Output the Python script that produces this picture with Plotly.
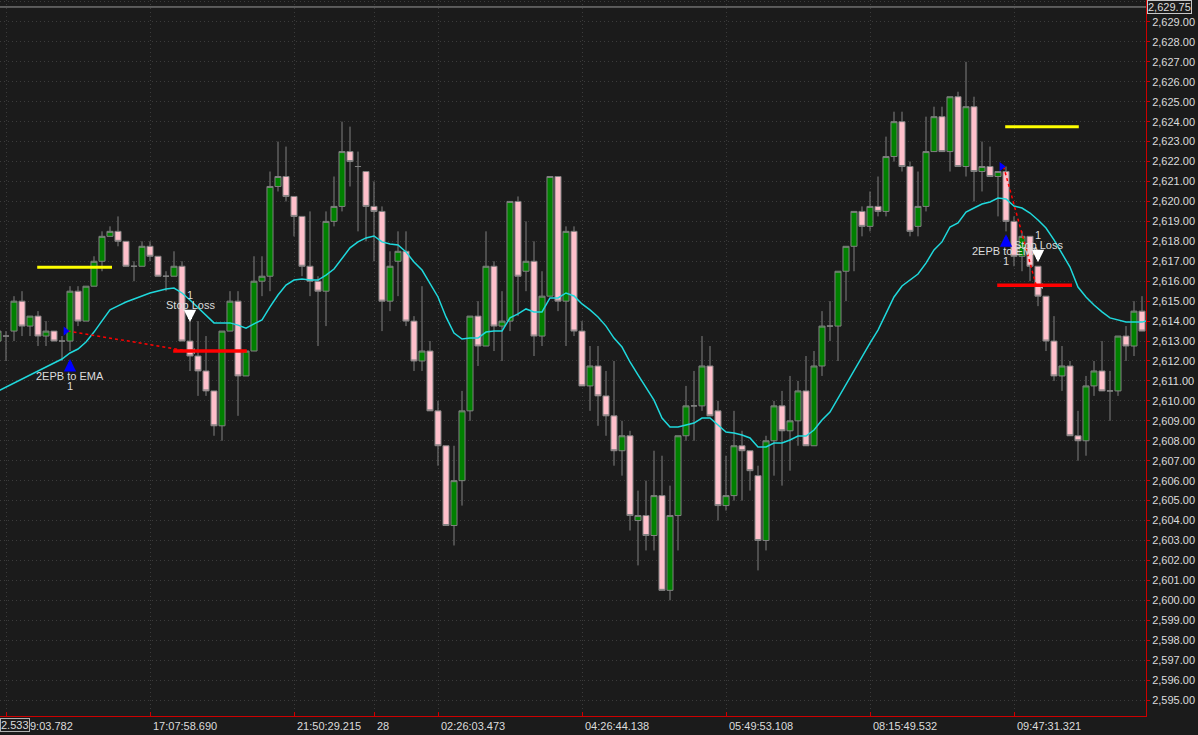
import plotly.graph_objects as go

# tick chart: bars are evenly spaced, so they are plotted by bar number
bar_idx = list(range(145))

open_ = [2613.0, 2613.25, 2613.5, 2615.0, 2613.75, 2614.25, 2613.25, 2613.5, 2613.0, 2613.0,
         2615.5, 2614.0, 2615.75, 2617.0, 2618.25, 2618.5, 2618.0, 2616.75, 2616.75, 2617.75,
         2617.25, 2616.25, 2616.25, 2616.75, 2613.0, 2612.25, 2611.5, 2610.5, 2608.75, 2613.5,
         2615.0, 2611.25, 2612.5, 2616.0, 2616.25, 2620.75, 2621.25, 2620.25, 2619.25, 2616.75,
         2616.0, 2615.5, 2619.0, 2619.75, 2622.5, 2621.75, 2621.5, 2619.75, 2619.5, 2615.0,
         2617.0, 2617.5, 2614.0, 2612.0, 2612.5, 2609.5, 2607.75, 2603.75, 2606.0, 2609.5,
         2614.25, 2612.75, 2616.75, 2613.75, 2614.0, 2620.0, 2616.5, 2617.0, 2613.25, 2615.25,
         2621.25, 2615.0, 2618.5, 2613.5, 2610.75, 2611.75, 2610.25, 2609.25, 2607.5, 2608.25,
         2604.0, 2604.25, 2603.25, 2605.25, 2600.5, 2604.25, 2608.25, 2609.75, 2609.75, 2611.75,
         2609.5, 2604.75, 2605.25, 2607.75, 2607.5, 2606.25, 2603.0, 2608.0, 2609.75, 2608.5,
         2609.0, 2610.5, 2607.75, 2611.75, 2613.75, 2613.75, 2616.5, 2617.75, 2619.5, 2618.75,
         2619.75, 2619.5, 2622.25, 2624.0, 2621.75, 2618.75, 2619.75, 2622.5, 2624.25, 2622.5,
         2625.25, 2621.75, 2624.75, 2621.5, 2621.75, 2621.25, 2621.5, 2619.0, 2617.25, 2618.25,
         2616.75, 2615.25, 2613.0, 2611.25, 2611.75, 2608.25, 2608.0, 2610.75, 2611.5, 2610.5,
         2610.5, 2613.25, 2612.75, 2614.5, 2614.0]
high = [2613.75, 2613.5, 2615.25, 2615.5, 2614.25, 2614.5, 2614.0, 2613.5, 2613.25, 2615.75,
        2615.75, 2615.75, 2617.25, 2618.5, 2618.75, 2619.25, 2618.0, 2617.0, 2618.0, 2618.0,
        2617.25, 2616.5, 2617.5, 2617.0, 2614.25, 2614.0, 2613.25, 2610.5, 2613.5, 2615.5,
        2615.5, 2612.5, 2617.25, 2617.25, 2621.5, 2623.0, 2622.75, 2620.25, 2619.25, 2619.5,
        2616.25, 2619.5, 2621.25, 2624.0, 2623.75, 2622.5, 2621.5, 2621.0, 2619.75, 2617.5,
        2618.5, 2618.5, 2614.25, 2615.75, 2613.0, 2610.0, 2607.75, 2607.75, 2610.5, 2614.25,
        2615.0, 2618.5, 2617.0, 2615.5, 2620.0, 2620.25, 2619.0, 2618.0, 2616.5, 2621.25,
        2621.25, 2618.75, 2618.75, 2614.0, 2612.75, 2612.75, 2611.5, 2612.0, 2609.0, 2608.5,
        2605.5, 2606.0, 2607.5, 2607.25, 2605.75, 2608.25, 2610.75, 2611.5, 2613.25, 2612.75,
        2610.0, 2607.25, 2609.5, 2608.5, 2607.5, 2606.75, 2608.25, 2610.0, 2610.5, 2611.25,
        2611.0, 2612.25, 2612.5, 2614.5, 2615.0, 2616.5, 2617.75, 2619.5, 2619.75, 2620.5,
        2621.25, 2623.25, 2624.5, 2624.5, 2622.0, 2621.5, 2624.25, 2624.75, 2624.75, 2625.25,
        2625.5, 2627.0, 2625.25, 2623.0, 2622.75, 2621.5, 2621.75, 2619.25, 2618.5, 2618.25,
        2616.75, 2615.25, 2614.25, 2612.75, 2612.0, 2609.5, 2611.25, 2612.0, 2613.0, 2611.5,
        2613.25, 2613.75, 2615.0, 2615.25, 2615.75]
low = [2612.75, 2612.0, 2613.0, 2613.25, 2613.25, 2612.75, 2612.75, 2613.0, 2612.0, 2612.5,
       2613.75, 2614.0, 2615.75, 2616.5, 2618.25, 2617.75, 2616.75, 2616.0, 2616.75, 2617.0,
       2616.25, 2615.5, 2616.25, 2613.0, 2611.5, 2610.25, 2610.25, 2608.25, 2608.0, 2613.5,
       2609.25, 2611.25, 2612.5, 2615.25, 2615.5, 2620.5, 2620.0, 2618.25, 2616.25, 2615.25,
       2612.75, 2613.75, 2618.75, 2619.5, 2620.75, 2618.5, 2618.0, 2617.0, 2613.5, 2614.5,
       2615.25, 2613.75, 2611.5, 2611.5, 2609.5, 2606.75, 2603.75, 2602.75, 2604.75, 2609.0,
       2611.75, 2612.75, 2612.5, 2612.0, 2613.5, 2614.25, 2615.5, 2612.25, 2612.75, 2615.25,
       2614.5, 2612.75, 2613.25, 2610.75, 2609.5, 2608.75, 2608.25, 2606.75, 2606.25, 2603.5,
       2601.75, 2602.5, 2602.5, 2600.5, 2600.0, 2602.5, 2608.0, 2608.0, 2609.5, 2609.25,
       2604.0, 2604.5, 2605.0, 2605.0, 2605.5, 2601.5, 2602.5, 2606.25, 2605.75, 2606.5,
       2607.75, 2607.75, 2607.75, 2611.25, 2613.0, 2612.0, 2615.0, 2616.5, 2618.25, 2618.5,
       2619.25, 2619.25, 2622.0, 2621.5, 2618.25, 2618.25, 2619.5, 2622.5, 2622.5, 2621.5,
       2621.75, 2621.25, 2620.0, 2620.5, 2621.25, 2619.25, 2618.5, 2616.75, 2616.5, 2616.0,
       2614.75, 2612.5, 2611.0, 2610.5, 2608.25, 2607.0, 2607.25, 2610.25, 2610.5, 2609.0,
       2610.25, 2612.0, 2612.25, 2613.5, 2613.75]
close = [2613.5, 2613.25, 2615.0, 2613.75, 2614.25, 2613.25, 2613.5, 2613.0, 2613.0, 2615.5,
         2614.0, 2615.75, 2617.0, 2618.25, 2618.5, 2618.0, 2616.75, 2616.75, 2617.75, 2617.25,
         2616.25, 2616.25, 2616.75, 2613.0, 2612.25, 2611.5, 2610.5, 2608.75, 2613.5, 2615.0,
         2611.25, 2612.5, 2616.0, 2616.25, 2620.75, 2621.25, 2620.25, 2619.25, 2616.75, 2616.0,
         2615.5, 2619.0, 2619.75, 2622.5, 2622.0, 2621.75, 2619.75, 2619.5, 2615.0, 2616.75,
         2617.5, 2614.0, 2612.0, 2612.5, 2609.5, 2607.75, 2603.75, 2606.0, 2609.5, 2614.25,
         2612.75, 2616.75, 2613.75, 2614.0, 2620.0, 2616.25, 2617.0, 2613.25, 2615.25, 2621.25,
         2615.0, 2618.5, 2613.5, 2610.75, 2611.75, 2610.25, 2609.25, 2607.5, 2608.25, 2604.25,
         2604.25, 2603.25, 2605.25, 2600.5, 2604.25, 2608.25, 2609.75, 2609.75, 2611.75, 2609.25,
         2604.75, 2605.25, 2607.75, 2607.5, 2606.5, 2603.0, 2608.0, 2609.75, 2608.5, 2609.0,
         2610.5, 2607.75, 2611.75, 2613.75, 2613.75, 2616.5, 2617.75, 2619.5, 2618.75, 2619.75,
         2619.5, 2622.25, 2624.0, 2621.75, 2618.5, 2619.75, 2622.5, 2624.25, 2622.5, 2625.25,
         2621.75, 2624.75, 2621.5, 2621.75, 2621.25, 2621.5, 2619.0, 2617.25, 2618.25, 2616.75,
         2615.25, 2613.0, 2611.25, 2611.75, 2608.25, 2608.0, 2610.75, 2611.5, 2610.5, 2610.5,
         2613.25, 2612.75, 2614.5, 2613.5, 2615.5]

# EMA indicator as drawn on the chart
ema = [2610.49, 2610.70, 2610.90, 2611.10, 2611.30, 2611.50, 2611.70, 2611.90, 2612.10, 2612.40,
       2612.60, 2612.95, 2613.45, 2614.01, 2614.56, 2614.76, 2614.96, 2615.11, 2615.26, 2615.41,
       2615.51, 2615.61, 2615.66, 2615.41, 2615.06, 2614.66, 2614.26, 2613.91, 2613.91, 2613.91,
       2613.80, 2613.65, 2613.86, 2614.06, 2614.71, 2615.31, 2615.81, 2616.06, 2616.11, 2616.06,
       2616.06, 2616.31, 2616.61, 2617.16, 2617.67, 2617.97, 2618.17, 2618.27, 2617.97, 2617.87,
       2617.82, 2617.47, 2616.96, 2616.56, 2615.91, 2615.21, 2614.21, 2613.40, 2613.10, 2613.15,
       2613.15, 2613.45, 2613.50, 2613.50, 2614.16, 2614.36, 2614.61, 2614.46, 2614.46, 2615.16,
       2615.16, 2615.41, 2615.26, 2614.86, 2614.56, 2614.21, 2613.75, 2613.15, 2612.70, 2611.95,
       2611.30, 2610.65, 2610.04, 2609.14, 2608.69, 2608.69, 2608.79, 2608.89, 2609.14, 2609.14,
       2608.79, 2608.44, 2608.39, 2608.29, 2608.14, 2607.69, 2607.69, 2607.89, 2607.89, 2608.04,
       2608.24, 2608.24, 2608.54, 2609.04, 2609.44, 2610.14, 2610.80, 2611.55, 2612.20, 2612.90,
       2613.55, 2614.41, 2615.21, 2615.76, 2616.06, 2616.36, 2616.91, 2617.57, 2617.97, 2618.72,
       2618.92, 2619.47, 2619.67, 2619.87, 2619.97, 2620.17, 2620.12, 2619.77, 2619.67, 2619.42,
       2619.07, 2618.67, 2618.07, 2617.42, 2616.71, 2615.71, 2615.21, 2614.81, 2614.46, 2614.16,
       2614.06, 2613.95, 2613.95, 2613.95, 2614.06]

# time axis labels (left aligned at their bar); the first one is half hidden
# behind the corner box, only its visible part is kept
tick_idx = [1, 19, 37, 47, 55, 73, 91, 109, 127]
tick_text = ["9:03.782", "17:07:58.690", "21:50:29.215", "28", "02:26:03.473",
             "04:26:44.138", "05:49:53.108", "08:15:49.532", "09:47:31.321"]

# two trades
entry_idx = [9, 126]
entry_fill = [2613.5, 2621.75]
entry_arrow = [2612.1, 2618.35]
entry_name = ["2EPB to EMA", "2EPB to EMA"]
exit_idx = [24, 130]
exit_fill = [2612.5, 2615.75]
exit_arrow = [2613.95, 2616.95]
exit_name = ["Stop Loss", "Stop Loss"]
qty = ["1", "1"]

target_price = [2616.7, 2623.75]
target_from = [4.9, 125.9]
target_to = [14.25, 135.1]
stop_price = [2612.5, 2615.8]
stop_from = [21.9, 124.9]
stop_to = [31.1, 134.25]

top_price = 2629.75
top_label = "2,629.75"
corner_label = "2.533"

BG = "#1b1b1b"
GRID = "#3c3c3c"
AXIS_RED = "#cc0000"
TXT = "#dcdcdc"
FONT = "Arial, Liberation Sans, sans-serif"

fig = go.Figure()

fig.add_trace(go.Candlestick(
    x=bar_idx, open=open_, high=high, low=low, close=close,
    increasing=dict(fillcolor="#008000", line=dict(color="#808080", width=1)),
    decreasing=dict(fillcolor="#ffc0cb", line=dict(color="#808080", width=1)),
    whiskerwidth=0, showlegend=False, hoverinfo="skip",
))

fig.add_trace(go.Scatter(x=bar_idx, y=ema, mode="lines",
                         line=dict(color="#1fd8dc", width=1.5),
                         showlegend=False, hoverinfo="skip"))

# target / stop lines
for i in range(len(entry_idx)):
    fig.add_shape(type="line", xref="x", yref="y",
                  x0=target_from[i], x1=target_to[i], y0=target_price[i], y1=target_price[i],
                  line=dict(color="#ffff00", width=3))
    fig.add_shape(type="line", xref="x", yref="y",
                  x0=stop_from[i], x1=stop_to[i], y0=stop_price[i], y1=stop_price[i],
                  line=dict(color="#ff0000", width=3.5))

# dotted trade connection lines
for i in range(len(entry_idx)):
    fig.add_trace(go.Scatter(x=[entry_idx[i] - 0.3, exit_idx[i] - 0.2],
                             y=[entry_fill[i], exit_fill[i]], mode="lines",
                             line=dict(color="#ff0000", width=1.5, dash="dot"),
                             showlegend=False, hoverinfo="skip"))

# execution markers
fig.add_trace(go.Scatter(x=[i - 0.55 for i in entry_idx], y=entry_fill, mode="markers",
                         marker=dict(symbol="triangle-right", size=8, color="#0000ff"),
                         showlegend=False, hoverinfo="skip"))
fig.add_trace(go.Scatter(x=[i + 0.45 for i in exit_idx], y=exit_fill, mode="markers",
                         marker=dict(symbol="triangle-left", size=5, color="#c8c8c8"),
                         showlegend=False, hoverinfo="skip"))

annotations = []
for i in range(len(entry_idx)):
    # entry: blue up arrow + label below
    annotations.append(dict(x=entry_idx[i], y=entry_arrow[i], xref="x", yref="y", text="",
                            showarrow=True, ax=0, ay=10, arrowhead=2, arrowsize=0.62,
                            arrowwidth=4, arrowcolor="#0000ff"))
    annotations.append(dict(x=entry_idx[i], y=entry_arrow[i], xref="x", yref="y",
                            text=entry_name[i], showarrow=False, yshift=-17,
                            font=dict(size=11, color=TXT, family=FONT)))
    annotations.append(dict(x=entry_idx[i], y=entry_arrow[i], xref="x", yref="y",
                            text=qty[i], showarrow=False, yshift=-27,
                            font=dict(size=11, color=TXT, family=FONT)))
    # exit: white down arrow + label above
    annotations.append(dict(x=exit_idx[i], y=exit_arrow[i], xref="x", yref="y", text="",
                            showarrow=True, ax=0, ay=-10, arrowhead=2, arrowsize=0.62,
                            arrowwidth=4, arrowcolor="#ffffff"))
    annotations.append(dict(x=exit_idx[i], y=exit_arrow[i], xref="x", yref="y",
                            text=exit_name[i], showarrow=False, yshift=17,
                            font=dict(size=11, color=TXT, family=FONT)))
    annotations.append(dict(x=exit_idx[i], y=exit_arrow[i], xref="x", yref="y",
                            text=qty[i], showarrow=False, yshift=27,
                            font=dict(size=11, color=TXT, family=FONT)))

# time labels
for k, (idx, txt) in enumerate(zip(tick_idx, tick_text)):
    annotations.append(dict(x=idx, y=0, xref="x", yref="paper", text=txt, showarrow=False,
                            xanchor="left", yanchor="top", xshift=22 if k == 0 else 1,
                            yshift=-2, font=dict(size=11, color=TXT, family=FONT)))

# boxed labels
annotations.append(dict(x=0, y=0, xref="paper", yref="paper", text=corner_label,
                        showarrow=False, xanchor="left", yanchor="top", yshift=-2,
                        bgcolor=BG, bordercolor="#b0b0b0", borderwidth=1, borderpad=0,
                        font=dict(size=11, color=TXT, family=FONT)))
annotations.append(dict(x=1, y=1, xref="paper", yref="paper", text=top_label,
                        showarrow=False, xanchor="left", yanchor="top", xshift=1,
                        bgcolor=BG, bordercolor="#c8c8c8", borderwidth=1, borderpad=0,
                        font=dict(size=11, color=TXT, family=FONT)))

fig.add_shape(type="line", xref="paper", yref="y", x0=0, x1=1, y0=top_price, y1=top_price,
              line=dict(color="#9a9a9a", width=1))

fig.update_layout(
    width=1198, height=735,
    margin=dict(l=0, r=52, t=0, b=19),
    paper_bgcolor=BG, plot_bgcolor=BG,
    font=dict(family=FONT, size=11, color=TXT),
    showlegend=False,
    boxgap=0.13, boxgroupgap=0.13,
    annotations=annotations,
    xaxis=dict(range=[0.25, 143.5], rangeslider=dict(visible=False),
               tickvals=tick_idx, showticklabels=False, ticks="inside", ticklen=4,
               tickcolor=AXIS_RED, showgrid=True, gridcolor=GRID, griddash="1px,3px",
               showline=True, linecolor=AXIS_RED, linewidth=1, zeroline=False),
    yaxis=dict(side="right", range=[2594.2, 2630.1], dtick=1, tick0=0, tickformat=",.2f",
               ticks="outside", ticklen=3, tickcolor=AXIS_RED, showgrid=True,
               gridcolor=GRID, griddash="1px,3px", showline=True, linecolor=AXIS_RED,
               linewidth=1, zeroline=False, automargin=False,
               tickfont=dict(size=11, color=TXT, family=FONT)),
)

# page margin off so the 1198x735 figure sits at the window origin
fig.write_html("out.html", config={"displayModeBar": False},
               post_script="document.body.style.margin='0';"
                           "document.body.style.overflow='hidden';")
